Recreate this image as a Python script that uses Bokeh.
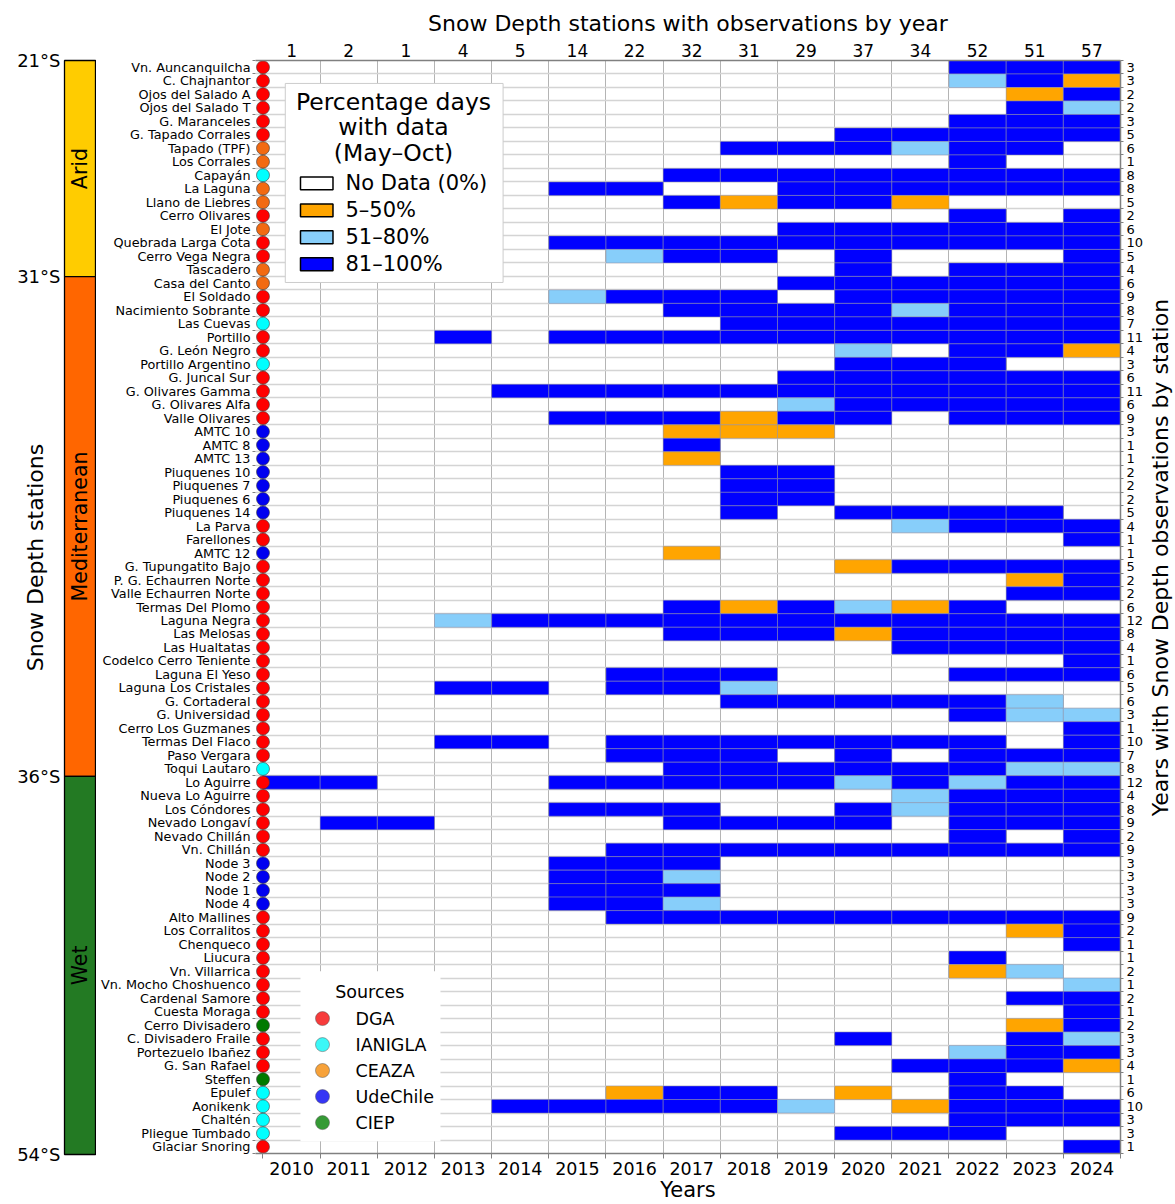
import math
from bokeh.plotting import figure
from bokeh.models import Range1d, FixedTicker, LinearAxis, ColumnDataSource, Plot
from bokeh.layouts import row
from bokeh.core.properties import value
from bokeh.embed import file_html
from bokeh.resources import INLINE

FONT = "DejaVu Sans"

years = list(range(2010, 2025))

stations = [
    "Vn. Auncanquilcha", "C. Chajnantor", "Ojos del Salado A", "Ojos del Salado T",
    "G. Maranceles", "G. Tapado Corrales", "Tapado (TPF)", "Los Corrales", "Capayán",
    "La Laguna", "Llano de Liebres", "Cerro Olivares", "El Jote", "Quebrada Larga Cota",
    "Cerro Vega Negra", "Tascadero", "Casa del Canto", "El Soldado", "Nacimiento Sobrante",
    "Las Cuevas", "Portillo", "G. León Negro", "Portillo Argentino", "G. Juncal Sur",
    "G. Olivares Gamma", "G. Olivares Alfa", "Valle Olivares", "AMTC 10", "AMTC 8",
    "AMTC 13", "Piuquenes 10", "Piuquenes 7", "Piuquenes 6", "Piuquenes 14", "La Parva",
    "Farellones", "AMTC 12", "G. Tupungatito Bajo", "P. G. Echaurren Norte",
    "Valle Echaurren Norte", "Termas Del Plomo", "Laguna Negra", "Las Melosas",
    "Las Hualtatas", "Codelco Cerro Teniente", "Laguna El Yeso", "Laguna Los Cristales",
    "G. Cortaderal", "G. Universidad", "Cerro Los Guzmanes", "Termas Del Flaco",
    "Paso Vergara", "Toqui Lautaro", "Lo Aguirre", "Nueva Lo Aguirre", "Los Cóndores",
    "Nevado Longaví", "Nevado Chillán", "Vn. Chillán", "Node 3", "Node 2", "Node 1",
    "Node 4", "Alto Mallines", "Los Corralitos", "Chenqueco", "Liucura", "Vn. Villarrica",
    "Vn. Mocho Choshuenco", "Cardenal Samore", "Cuesta Moraga", "Cerro Divisadero",
    "C. Divisadero Fraile", "Portezuelo Ibañez", "G. San Rafael", "Steffen", "Epulef",
    "Aonikenk", "Chaltén", "Pliegue Tumbado", "Glaciar Snoring",
]

station_sources = [
    "DGA", "DGA", "DGA", "DGA", "DGA", "DGA", "CEAZA", "CEAZA", "IANIGLA", "CEAZA",
    "CEAZA", "DGA", "CEAZA", "DGA", "DGA", "CEAZA", "CEAZA", "DGA", "DGA", "IANIGLA",
    "DGA", "DGA", "IANIGLA", "DGA", "DGA", "DGA", "DGA", "UdeChile", "UdeChile",
    "UdeChile", "UdeChile", "UdeChile", "UdeChile", "UdeChile", "DGA", "DGA", "UdeChile",
    "DGA", "DGA", "DGA", "DGA", "DGA", "DGA", "DGA", "DGA", "DGA", "DGA", "DGA", "DGA",
    "DGA", "DGA", "DGA", "IANIGLA", "DGA", "DGA", "DGA", "DGA", "DGA", "DGA", "UdeChile",
    "UdeChile", "UdeChile", "UdeChile", "DGA", "DGA", "DGA", "DGA", "DGA", "DGA", "DGA",
    "DGA", "CIEP", "DGA", "DGA", "DGA", "CIEP", "IANIGLA", "IANIGLA", "IANIGLA",
    "IANIGLA", "DGA",
]

# coverage class per year 2010..2024: 0 none, 1 = 5-50%, 2 = 51-80%, 3 = 81-100%
coverage = [
    "000000000000333", "000000000000231", "000000000000013", "000000000000032",
    "000000000000333", "000000000033333", "000000003332330", "000000000000300",
    "000000033333333", "000003300333333", "000000031331000", "000000000000303",
    "000000000333333", "000003333333333", "000000233030003", "000000000030333",
    "000000000333333", "000002333033333", "000000033332333", "000000003333333",
    "000303333333333", "000000000020331", "000000000033300", "000000000333333",
    "000033333333333", "000000000233333", "000003331330333", "000000011100000",
    "000000030000000", "000000010000000", "000000003300000", "000000003300000",
    "000000003300000", "000000003033330", "000000000002333", "000000000000003",
    "000000010000000", "000000000013333", "000000000000013", "000000000000033",
    "000000031321300", "000233333333333", "000000033313333", "000000000003333",
    "000000000000003", "000000333000333", "000330332000000", "000000003333320",
    "000000000000322", "000000000000003", "000330333333303", "000000333030333",
    "000000033333322", "330003333323233", "000000000002333", "000003330032333",
    "033000033330333", "000000000000303", "000000333333333", "000003330000000",
    "000003320000000", "000003330000000", "000003320000000", "000000333333333",
    "000000000000013", "000000000000003", "000000000000300", "000000000000120",
    "000000000000002", "000000000000033", "000000000000003", "000000000000013",
    "000000000030032", "000000000000233", "000000000003331", "000000000000300",
    "000000133010330", "000033333201333", "000000000000333", "000000000033300",
    "000000000000003",
]

stations_per_year = [1, 2, 1, 4, 5, 14, 22, 32, 31, 29, 37, 34, 52, 51, 57]

years_per_station = [
    3, 3, 2, 2, 3, 5, 6, 1, 8, 8, 5, 2, 6, 10, 5, 4, 6, 9, 8, 7, 11, 4, 3, 6, 11, 6, 9,
    3, 1, 1, 2, 2, 2, 5, 4, 1, 1, 5, 2, 2, 6, 12, 8, 4, 1, 6, 5, 6, 3, 1, 10, 7, 8, 12,
    4, 8, 9, 2, 9, 3, 3, 3, 3, 9, 2, 1, 1, 2, 1, 2, 1, 2, 3, 3, 4, 1, 6, 10, 3, 3, 1,
]

zones = ["Arid", "Mediterranean", "Wet"]
zone_rows = [16, 37, 28]
zone_colors = ["#FFCC00", "#FF6600", "#237A23"]
zone_latitudes = ["21°S", "31°S", "36°S", "54°S"]

coverage_labels = ["No Data (0%)", "5–50%", "51–80%", "81–100%"]
coverage_colors = ["#FFFFFF", "#FFA500", "#87CEFA", "#0000FF"]

source_names = ["DGA", "IANIGLA", "CEAZA", "UdeChile", "CIEP"]
source_marker_colors = {"DGA": "#FF0000", "IANIGLA": "#00FFFF", "CEAZA": "#F26A12",
                        "UdeChile": "#0000F0", "CIEP": "#007A00"}
source_legend_colors = ["#F73B3B", "#3BF7F7", "#F7A23A", "#3535F5", "#359A35"]

n = len(stations)
m = len(years)

# ---------------- layout geometry (pixels) ----------------
H = 1204
FRAME_TOP, FRAME_BOTTOM = 60, 1154
ROW_PX = (FRAME_BOTTOM - FRAME_TOP) / n
W1, W2, W3 = 96, 1050, 27
MAIN_LEFT_BORDER, MAIN_FRAME_W = 159, 865
X0 = -0.131
HAS_FA = "frame_align" in Plot.properties()


def strip(width):
    kw = dict(width=width, height=H, x_range=Range1d(0, width),
              x_axis_location=None, y_axis_location=None, min_border=0,
              min_border_left=0, min_border_right=0, outline_line_color=None,
              output_backend="svg", toolbar_location=None)
    if HAS_FA:
        kw.update(y_range=Range1d((H - FRAME_TOP) / ROW_PX, -FRAME_TOP / ROW_PX),
                  min_border_top=0, min_border_bottom=0, frame_align=False)
    else:
        kw.update(y_range=Range1d(n, 0), min_border_top=FRAME_TOP,
                  min_border_bottom=H - FRAME_BOTTOM)
    f = figure(**kw)
    f.grid.visible = False
    return f


# ---------------- left strip (climate zones) ----------------
left = strip(W1)
bounds = [0]
for r in zone_rows:
    bounds.append(bounds[-1] + r)
left.quad(left=[64] * 3, right=[95] * 3, top=bounds[:-1], bottom=bounds[1:],
          fill_color=zone_colors, line_color="black", line_width=1.3)
left.text(x=[79.5] * 3, y=[(a + b) / 2 for a, b in zip(bounds[:-1], bounds[1:])],
          text=zones, angle=math.pi / 2, text_align="center", text_baseline="middle",
          text_font=value(FONT), text_font_size=value("20.5px"), text_color="black")
lat_y = list(bounds)
if not HAS_FA:
    lat_y[0] += 0.7
    lat_y[-1] -= 0.7
left.text(x=[60] * 4, y=lat_y, text=zone_latitudes, text_align="right",
          text_baseline="middle", text_font=value(FONT), text_font_size=value("18px"),
          text_color="black")
left.text(x=[35], y=[36.8], text=["Snow Depth stations"], angle=math.pi / 2,
          text_align="center", text_baseline="middle", text_font=value(FONT),
          text_font_size=value("22px"), text_color="black")

# ---------------- right strip (axis title) ----------------
right = strip(W3)
right.text(x=[14], y=[36.8], text=["Years with Snow Depth observations by station"],
           angle=math.pi / 2, text_align="center", text_baseline="middle",
           text_font=value(FONT), text_font_size=value("22px"), text_color="black")

# ---------------- main heatmap ----------------
p = figure(width=W2, height=H, x_range=Range1d(X0, m), y_range=Range1d(n, 0),
           min_border_left=MAIN_LEFT_BORDER,
           min_border_right=W2 - MAIN_LEFT_BORDER - MAIN_FRAME_W,
           min_border_top=FRAME_TOP, min_border_bottom=H - FRAME_BOTTOM,
           outline_line_color=None, output_backend="svg", toolbar_location=None)

col_centers = [j + 0.5 for j in range(m)]
row_centers = [i + 0.5 for i in range(n)]

p.xgrid.ticker = FixedTicker(ticks=list(range(m + 1)))
p.ygrid.ticker = FixedTicker(ticks=list(range(n + 1)))
p.xgrid.grid_line_color = "#b4b4b4"
p.xgrid.grid_line_width = 1
p.ygrid.grid_line_color = "#d4d4d4"
p.ygrid.grid_line_width = 1.5


def style_axis(ax, size, standoff):
    ax.major_label_text_font = FONT
    ax.major_label_text_font_size = size
    ax.major_label_text_color = "black"
    ax.major_label_standoff = standoff
    ax.major_tick_out = 0
    ax.major_tick_in = 0
    ax.minor_tick_in = 0
    ax.axis_line_color = "#808080"
    ax.axis_line_width = 1.5
    ax.minor_tick_line_color = "#808080"
    ax.axis_label_text_font = FONT
    ax.axis_label_text_color = "black"
    ax.axis_label_text_font_style = "normal"


xb = p.xaxis[0]
xb.ticker = FixedTicker(ticks=col_centers, minor_ticks=list(range(m + 1)))
xb.major_label_overrides = {c: str(y) for c, y in zip(col_centers, years)}
style_axis(xb, "17.5px", 3)
xb.minor_tick_out = 5
xb.axis_label = "Years"
xb.axis_label_text_font_size = "21px"
xb.axis_label_standoff = 0

xt = LinearAxis(ticker=FixedTicker(ticks=col_centers))
xt.major_label_overrides = {c: str(v) for c, v in zip(col_centers, stations_per_year)}
style_axis(xt, "17px", 4)
xt.minor_tick_out = 0
xt.axis_label = "Snow Depth stations with observations by year"
xt.axis_label_text_font_size = "22px"
xt.axis_label_standoff = 5
p.add_layout(xt, "above")

yl = p.yaxis[0]
yl.ticker = FixedTicker(ticks=row_centers, minor_ticks=list(range(n + 1)))
yl.major_label_overrides = {c: s for c, s in zip(row_centers, stations)}
style_axis(yl, "12.8px", 2)
yl.minor_tick_out = 3
yl.axis_line_color = None

yr = LinearAxis(ticker=FixedTicker(ticks=row_centers, minor_ticks=list(range(n + 1))))
yr.major_label_overrides = {c: str(v) for c, v in zip(row_centers, years_per_station)}
style_axis(yr, "13px", 3)
yr.minor_tick_out = 3
p.add_layout(yr, "right")

# cells
cl, cr, ct, cb, cc = [], [], [], [], []
for i, codes in enumerate(coverage):
    for j, ch in enumerate(codes):
        k = int(ch)
        if k > 0:
            cl.append(j)
            cr.append(j + 1)
            ct.append(i)
            cb.append(i + 1)
            cc.append(coverage_colors[k])
p.quad(source=ColumnDataSource(dict(left=cl, right=cr, top=ct, bottom=cb, color=cc)),
       left="left", right="right", top="top", bottom="bottom",
       fill_color="color", line_color="#9090a8", line_width=0.5)

# source markers
p.scatter(x=[0] * n, y=row_centers, size=13, marker="circle",
          fill_color=[source_marker_colors[s] for s in station_sources],
          line_color="#3a3a3a", line_width=0.6)

# legend: coverage classes
p.quad(left=[0.39], right=[4.2], top=[1.7], bottom=[16.45], fill_color="white",
       line_color="#cccccc", line_width=1)
p.text(x=[2.283] * 3, y=[3.04, 4.96, 6.89],
       text=["Percentage days", "with data", "(May–Oct)"],
       text_align="center", text_baseline="middle", text_font=value(FONT),
       text_font_size=value("23.5px"), text_color="black")
leg_y = [9.107, 11.106, 13.105, 15.104]
p.quad(left=[0.656] * 4, right=[1.2245] * 4, top=[y - 0.48 for y in leg_y],
       bottom=[y + 0.48 for y in leg_y], fill_color=coverage_colors,
       line_color="black", line_width=1.5)
p.text(x=[1.443] * 4, y=leg_y, text=coverage_labels, text_align="left",
       text_baseline="middle", text_font=value(FONT), text_font_size=value("21px"),
       text_color="black")

# legend: sources
p.quad(left=[0.656], right=[3.105], top=[67.5], bottom=[80.1], fill_color="white",
       line_color=None)
p.text(x=[1.868], y=[69.0], text=["Sources"], text_align="center",
       text_baseline="middle", text_font=value(FONT), text_font_size=value("17.5px"),
       text_color="black")
src_y = [71.0, 72.93, 74.85, 76.78, 78.71]
p.scatter(x=[1.041] * 5, y=src_y, size=14, marker="circle",
          fill_color=source_legend_colors, line_color="#555555", line_width=0.5)
p.text(x=[1.618] * 5, y=src_y, text=source_names, text_align="left",
       text_baseline="middle", text_font=value(FONT), text_font_size=value("17.5px"),
       text_color="black")

layout = row(left, p, right, spacing=0)
open("out.html", "w").write(file_html(layout, INLINE))
